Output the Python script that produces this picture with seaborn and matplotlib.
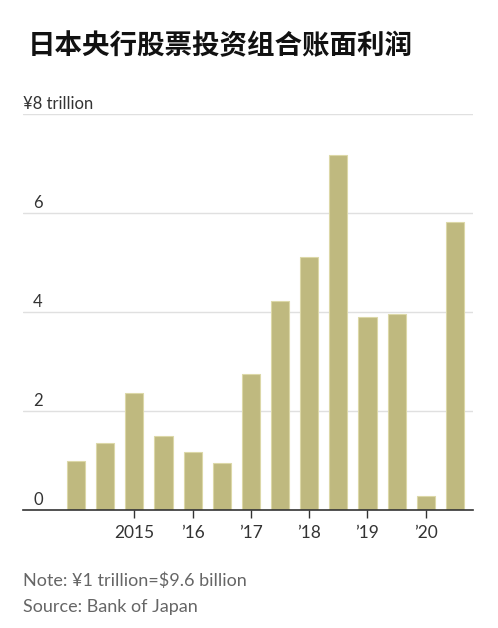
import pandas as pd
import seaborn as sns
from matplotlib import pyplot as plt
from matplotlib import transforms

sns.set_theme(style="white")
plt.rcParams['font.family'] = ['Lato', 'DejaVu Sans']

# half-year periods, valuation gains (trillion yen)
periods = ['2014H1', '2014H2', '2015H1', '2015H2', '2016H1', '2016H2', '2017H1',
           '2017H2', '2018H1', '2018H2', '2019H1', '2019H2', '2020H1', '2020H2']
gains = [0.98, 1.35, 2.37, 1.49, 1.17, 0.95, 2.75, 4.23, 5.11, 7.18, 3.90, 3.96, 0.28, 5.81]
tick_pos = [2, 4, 6, 8, 10, 12]
tick_labels = ['2015', '\u201916', '\u201917', '\u201918', '\u201919', '\u201920']
y_ticks = [0, 2, 4, 6, 8]
y_labels = ['0', '2', '4', '6', '\u00a58 trillion']

df = pd.DataFrame({'period': periods, 'gain': gains})

fig = plt.figure(figsize=(4.98, 6.28), dpi=100)
ax = fig.add_axes([23/498, 118/628, 450/498, 396/628])

sns.barplot(data=df, x='period', y='gain', color='#bfb97f', saturation=1,
            width=0.62, edgecolor='#dcd8a8', linewidth=0.8, ax=ax)

ax.set_xlim(-1.82, 13.62)
ax.set_ylim(0, 8)
ax.set_xlabel('')
ax.set_ylabel('')
sns.despine(ax=ax, left=True, top=True, right=True)
ax.spines['bottom'].set_color('#333333')
ax.spines['bottom'].set_linewidth(1.2)

for v in y_ticks[1:]:
    ax.axhline(v, color='#e0e0e0', lw=1, zorder=0)

ax.set_yticks([])
ax.set_xticks(tick_pos)
ax.set_xticklabels(tick_labels, fontsize=12.5, color='#333333')
ax.tick_params(axis='x', length=6, width=1, color='#333333', direction='out',
               bottom=True, pad=5)

trans = transforms.blended_transform_factory(fig.transFigure, ax.transData)
for v, lab in zip(y_ticks, y_labels):
    x0 = 23/498 if lab.startswith('\u00a5') else 33/498
    ax.text(x0, v + 0.05, lab, transform=trans, ha='left', va='bottom',
            fontsize=12, color='#333333')

fig.text(28/498, 1 - 46/628, '日本央行股票投资组合账面利润', fontsize=19.8,
         fontweight='bold', color='#111111', va='center', ha='left',
         family=['Noto Sans CJK SC', 'DejaVu Sans'])
fig.text(23/498, 1 - 581/628, 'Note: \u00a51 trillion=$9.6 billion', fontsize=13,
         color='#666666', va='center', ha='left')
fig.text(23/498, 1 - 607/628, 'Source: Bank of Japan', fontsize=13,
         color='#666666', va='center', ha='left')

fig.savefig('out.png', dpi=100)
